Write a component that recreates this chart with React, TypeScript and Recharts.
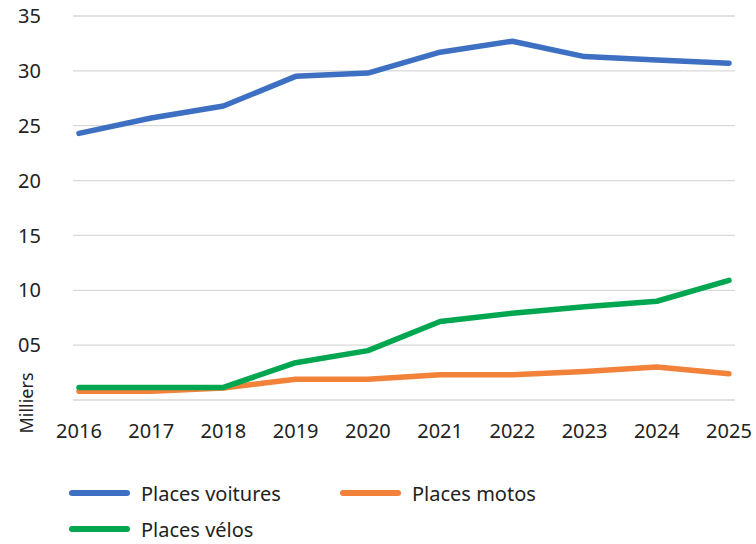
import React from 'react';
import { LineChart, Line, XAxis, YAxis, CartesianGrid } from 'recharts';

// années
const years = ['2016', '2017', '2018', '2019', '2020', '2021', '2022', '2023', '2024', '2025'];

// valeurs en milliers de places
const voitures = [24.3, 25.7, 26.8, 29.5, 29.8, 31.7, 32.7, 31.3, 31.0, 30.7];
const motos = [0.8, 0.8, 1.1, 1.9, 1.9, 2.3, 2.3, 2.6, 3.0, 2.4];
const velos = [1.15, 1.15, 1.15, 3.4, 4.5, 7.15, 7.9, 8.5, 9.0, 10.9];

const yTicks = [0, 5, 10, 15, 20, 25, 30, 35];

const series = [
  { key: 'voitures', name: 'Places voitures', color: '#3d70c2' },
  { key: 'motos', name: 'Places motos', color: '#f2823a' },
  { key: 'velos', name: 'Places vélos', color: '#00a650' },
];

const data = years.map((year, i) => ({
  year,
  voitures: voitures[i],
  motos: motos[i],
  velos: velos[i],
}));

const FONT = '"Noto Sans", sans-serif';
const TEXT = '#222222';

const formatY = (v: number) => {
  if (v === 0) return '';
  return v < 10 ? `0${v}` : `${v}`;
};

// légende en bas, sur deux lignes
function LegendItem({ color, label, left, top }: { color: string; label: string; left: number; top: number }) {
  return (
    <div style={{ position: 'absolute', left, top, display: 'flex', alignItems: 'center', height: 24 }}>
      <div style={{ width: 61, height: 6, borderRadius: 3, background: color }} />
      <span style={{ marginLeft: 11, fontSize: 20, color: TEXT, fontFamily: FONT, whiteSpace: 'nowrap' }}>{label}</span>
    </div>
  );
}

export default function App() {
  return (
    <div style={{ position: 'absolute', left: 0, top: 0, width: 756, height: 544, background: '#fff' }}>
      <LineChart
        width={756}
        height={460}
        data={data}
        margin={{ top: 16, right: 21, left: 0, bottom: 16 }}
      >
        <CartesianGrid vertical={false} stroke="#d9d9d9" strokeWidth={1.3} />
        <XAxis
          dataKey="year"
          axisLine={false}
          tickLine={false}
          tickSize={0}
          tickMargin={24}
          height={44}
          padding={{ left: 6, right: 6 }}
          interval={0}
          tick={{ fill: TEXT, fontSize: 20, fontFamily: FONT }}
        />
        <YAxis
          domain={[0, 35]}
          ticks={yTicks}
          width={73}
          axisLine={false}
          tickLine={false}
          tickSize={0}
          tickMargin={32}
          tickFormatter={formatY}
          tick={{ fill: TEXT, fontSize: 20, fontFamily: FONT }}
          label={({ viewBox }: any) => (
            <text
              transform={`translate(33, ${viewBox.y + viewBox.height + 3}) rotate(-90)`}
              textAnchor="middle"
              fill={TEXT}
              fontSize={18}
              fontFamily={FONT}
            >
              Milliers
            </text>
          )}
        />
        {series.map((s) => (
          <Line
            key={s.key}
            type="linear"
            dataKey={s.key}
            name={s.name}
            stroke={s.color}
            strokeWidth={5.5}
            strokeLinecap="round"
            strokeLinejoin="round"
            dot={false}
            activeDot={false}
            isAnimationActive={false}
          />
        ))}
      </LineChart>
      <LegendItem color={series[0].color} label={series[0].name} left={69} top={481} />
      <LegendItem color={series[1].color} label={series[1].name} left={340} top={481} />
      <LegendItem color={series[2].color} label={series[2].name} left={69} top={517} />
    </div>
  );
}
